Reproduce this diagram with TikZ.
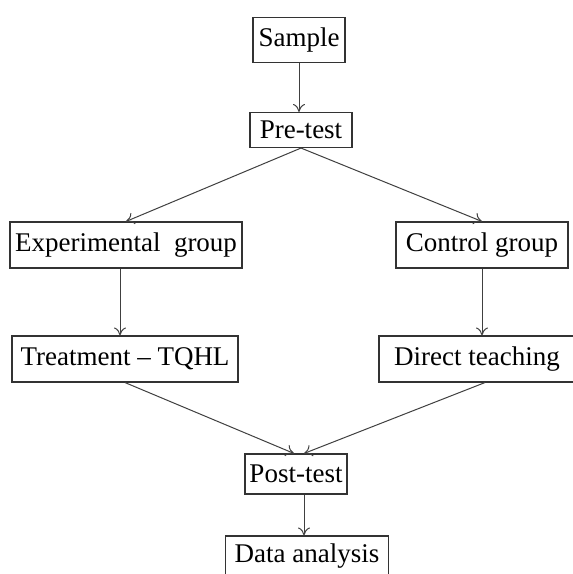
\documentclass[tikz,border=0pt]{standalone}
\usepackage{fontspec}
\setmainfont{Liberation Serif}
\usetikzlibrary{arrows.meta}
\tikzstyle{box} = [rectangle, draw=black!80, line width=1.1pt, fill=white, font=\fontsize{27}{31}\selectfont, inner sep=0pt]
\tikzstyle{flow} = [draw=black!75, line width=1pt, -{To[length=8pt,width=12pt]}]

\begin{document}
\begin{tikzpicture}[x=1pt, y=-1pt]
        % Frame
        \fill[white] (0,0) rectangle (573,574);
        \useasboundingbox (0,0) rectangle (573,574);
        \clip (0,0) rectangle (573,574);

        % Top
        \node[box, minimum width=92pt, minimum height=45pt] (sample) at (299, 40) {Sample};
        \node[box, minimum width=102pt, minimum height=35pt] (pretest) at (301, 130) {Pre-test};

        % Groups
        \node[box, minimum width=232pt, minimum height=46pt] (expgroup) at (126, 245) {Experimental~ group};
        \node[box, minimum width=172pt, minimum height=46pt] (ctrlgroup) at (482, 245) {Control group};
        \node[box, minimum width=226pt, minimum height=46pt] (treatment) at (125, 359) {Treatment -- TQHL};
        \node[box, minimum width=196pt, minimum height=46pt] (direct) at (477, 359) {Direct teaching};

        % Bottom
        \node[box, minimum width=102pt, minimum height=40pt] (posttest) at (296, 474) {Post-test};
        \node[box, minimum width=163pt, minimum height=40pt] (analysis) at (307, 556) {Data analysis};

        \draw[flow] (sample.south) -- (sample.south |- pretest.north);
        \draw[flow] (pretest.south) -- (expgroup.north);
        \draw[flow] (pretest.south) -- (ctrlgroup.north);
        \draw[flow] ([xshift=-6pt]expgroup.south) -- ([xshift=-5pt]treatment.north);
        \draw[flow] (ctrlgroup.south) -- ([xshift=5pt]direct.north);
        \draw[flow] (treatment.south) -- ([xshift=-2pt]posttest.north);
        \draw[flow] ([xshift=8pt]direct.south) -- ([xshift=8pt]posttest.north);
        \draw[flow] ([xshift=8pt]posttest.south) -- ([xshift=-3pt]analysis.north);
    \end{tikzpicture}
\end{document}
